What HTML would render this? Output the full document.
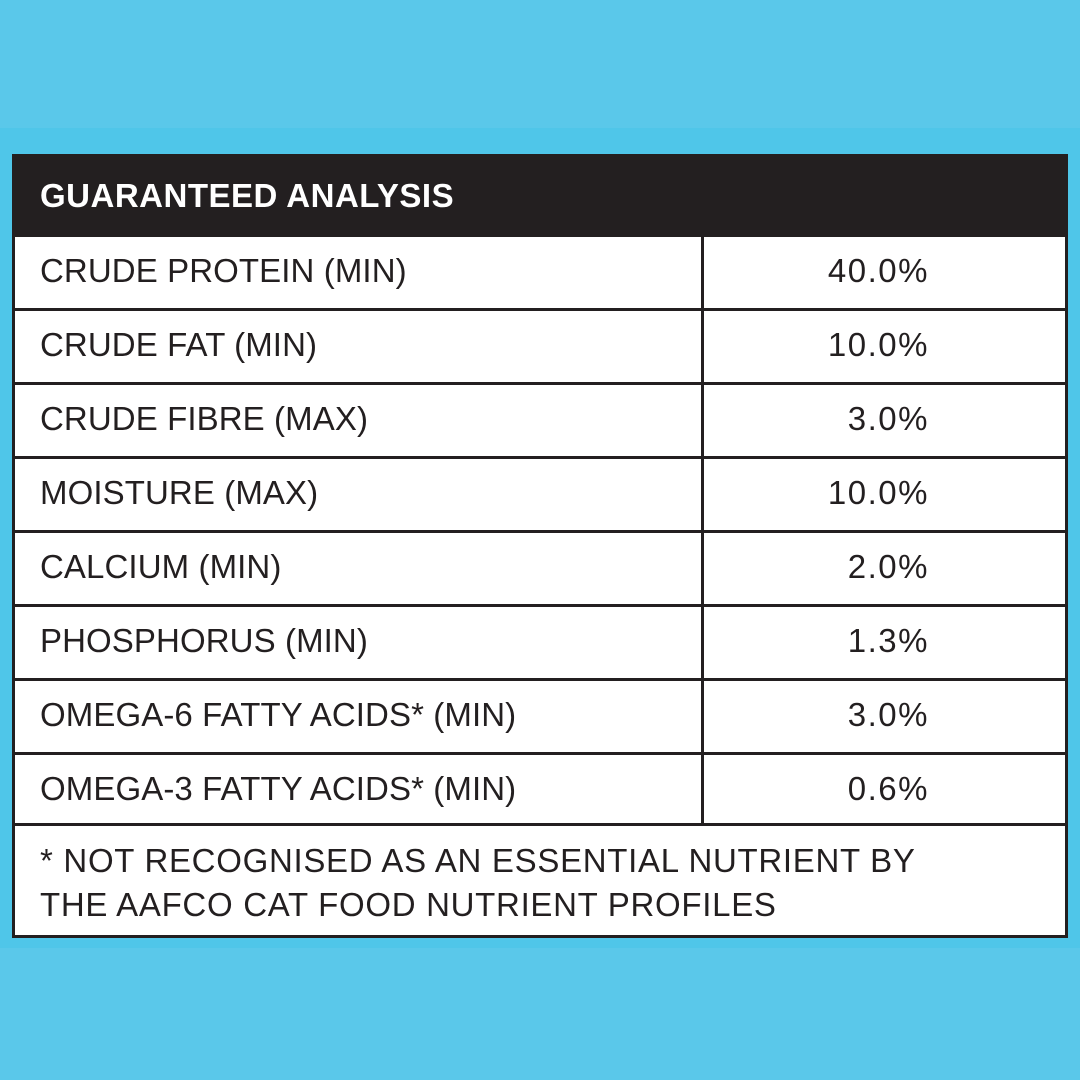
<!DOCTYPE html>
<html><head><style>
html,body{margin:0;padding:0;}
body{width:1080px;height:1080px;background:#5ac8ea;position:relative;overflow:hidden;font-family:"Liberation Sans",sans-serif;color:#231f20;}
.band{position:absolute;left:0;top:128px;width:1080px;height:820px;background:#4fc6e9;}
.t{position:absolute;left:12px;top:154px;width:1050px;height:778px;border:3px solid #231f20;background:#fff;}
.h{position:absolute;left:0;top:0;width:1050px;height:77px;background:#231f20;color:#fff;font-weight:bold;font-size:33px;line-height:77px;padding-left:25px;box-sizing:border-box;letter-spacing:0.5px;}
.r{position:absolute;left:0;width:1050px;height:74px;border-top:3px solid #231f20;box-sizing:border-box;font-size:33px;letter-spacing:0.1px;}
.r .l{position:absolute;left:25px;top:15px;}
.r .v{position:absolute;right:136px;top:15px;letter-spacing:1.5px;}
.r .d{position:absolute;left:686px;top:0;width:3px;height:74px;background:#231f20;}
.f{position:absolute;left:0;top:666px;width:1050px;height:112px;border-top:3px solid #231f20;box-sizing:border-box;font-size:33px;line-height:44px;padding:13px 0 0 25px;letter-spacing:0.7px;}
</style></head><body>
<div class="band"></div>
<div class="t">
<div class="h">GUARANTEED ANALYSIS</div>
<div class="r" style="top:77px"><span class="l">CRUDE PROTEIN (MIN)</span><span class="d"></span><span class="v">40.0%</span></div>
<div class="r" style="top:151px"><span class="l">CRUDE FAT (MIN)</span><span class="d"></span><span class="v">10.0%</span></div>
<div class="r" style="top:225px"><span class="l">CRUDE FIBRE (MAX)</span><span class="d"></span><span class="v">3.0%</span></div>
<div class="r" style="top:299px"><span class="l">MOISTURE (MAX)</span><span class="d"></span><span class="v">10.0%</span></div>
<div class="r" style="top:373px"><span class="l">CALCIUM (MIN)</span><span class="d"></span><span class="v">2.0%</span></div>
<div class="r" style="top:447px"><span class="l">PHOSPHORUS (MIN)</span><span class="d"></span><span class="v">1.3%</span></div>
<div class="r" style="top:521px"><span class="l">OMEGA-6 FATTY ACIDS* (MIN)</span><span class="d"></span><span class="v">3.0%</span></div>
<div class="r" style="top:595px;height:71px"><span class="l">OMEGA-3 FATTY ACIDS* (MIN)</span><span class="d" style="height:71px"></span><span class="v">0.6%</span></div>
<div class="f">* NOT RECOGNISED AS AN ESSENTIAL NUTRIENT BY<br>THE AAFCO CAT FOOD NUTRIENT PROFILES</div>
</div>
</body></html>
